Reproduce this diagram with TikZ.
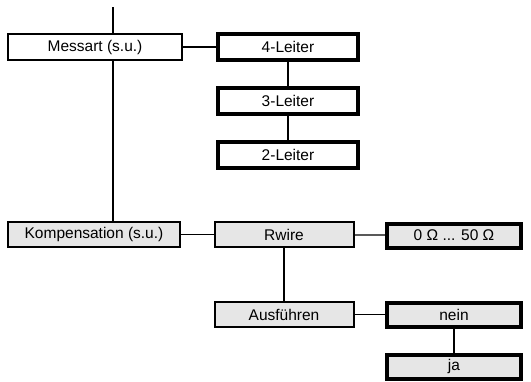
\documentclass[tikz,border=0pt]{standalone}
\usepackage{fontspec}
\setmainfont{Liberation Sans}
\definecolor{boxgrey}{RGB}{230,230,230}

\begin{document}
\begin{tikzpicture}[x=1pt,y=-1pt,
  menu/.style={draw,line width=2pt,minimum width=174pt,minimum height=25pt,
    inner sep=0pt,font=\fontsize{15.5}{17}\selectfont},
  item/.style={menu,minimum width=139pt},
  choice/.style={menu,line width=4pt,minimum width=140pt,minimum height=26pt},
  link/.style={line width=1.3pt},
  drop/.style={line width=2.4pt}]
\useasboundingbox (0,0) rectangle (531,381);
% Messart branch
\node[menu,minimum height=26pt] (mess) at (95,47) {Messart (s.u.)};
\node[choice] (l4) at (288,47) {4-Leiter};
\node[choice] (l3) at (288,100.5) {3-Leiter};
\node[choice] (l2) at (288,154.5) {2-Leiter};
% Kompensation branch
\node[menu,fill=boxgrey,minimum width=172pt] (komp) at (94,234.5) {Kompensation (s.u.)};
\node[item,fill=boxgrey] (rwire) at (284,234.5) {Rwire};
\node[choice,fill=boxgrey,minimum width=134pt,minimum height=24pt] (ohm) at (454,235.5) {0 Ω ... 50 Ω};
\node[item,fill=boxgrey] (ausf) at (284,314.5) {Ausführen};
\node[choice,fill=boxgrey,minimum width=134pt,minimum height=24pt] (nein) at (454,314.5) {nein};
\node[choice,fill=boxgrey,minimum width=134pt,minimum height=24pt] (ja) at (454,366.5) {ja};
% connectors
\coordinate (top) at (113,7);
\draw[drop] (top) -- (top |- mess.north);
\draw[drop] (top |- mess.south) -- (top |- komp.north);
\draw[link] (mess) -- (l4);
\draw[drop] (l4) -- (l3);
\draw[drop] (l3) -- (l2);
\draw[link] (komp) -- (rwire);
\draw[link] (rwire) -- (ohm);
\draw[drop] (rwire) -- (ausf);
\draw[link] (ausf) -- (nein);
\draw[drop] (nein) -- (ja);
\end{tikzpicture}
\end{document}
